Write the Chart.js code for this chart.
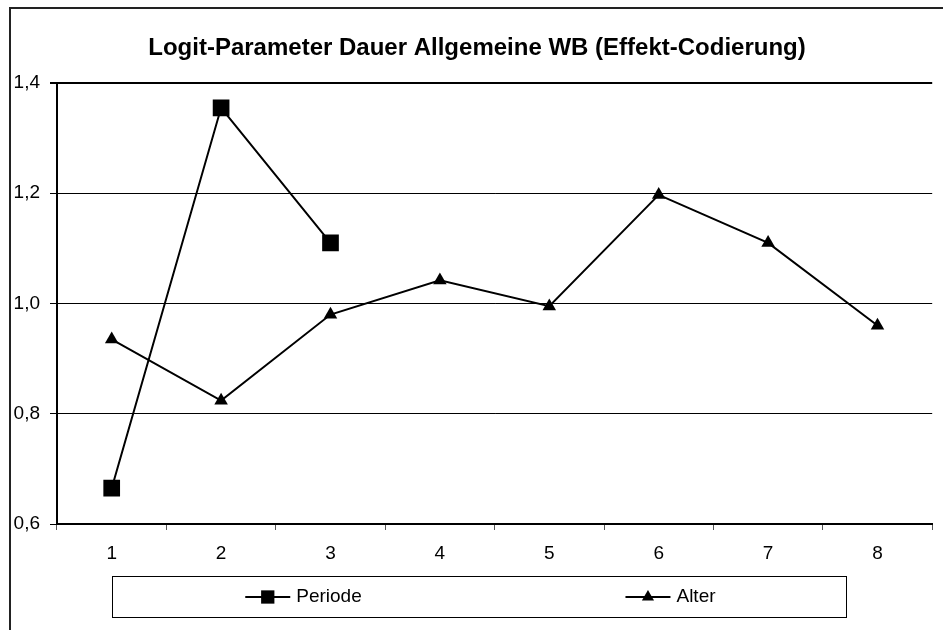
<!DOCTYPE html>
<html><head><meta charset="utf-8">
<script src="https://cdn.jsdelivr.net/npm/chart.js@4/dist/chart.umd.min.js"></script>
<style>
html,body{margin:0;padding:0;background:#fff;overflow:hidden;}
#wrap{position:relative;width:944px;height:630px;}
</style></head><body>
<div id="wrap"><canvas id="c"></canvas></div>
<script>
const categories = ['1','2','3','4','5','6','7','8'];
const periodeValues = [0.665, 1.355, 1.11];
const alterValues = [0.935, 0.824, 0.98, 1.042, 0.995, 1.197, 1.11, 0.96];
const yMin = 0.6, yMax = 1.4, yStep = 0.2;
const seriesNames = ['Periode', 'Alter'];
const titleText = 'Logit-Parameter Dauer Allgemeine WB (Effekt-Codierung)';

const FONT = "'Liberation Sans', Arial, sans-serif";

const framePlugin = {
  id: 'frame',
  beforeDraw(chart) {
    const ctx = chart.ctx;
    ctx.save();
    ctx.fillStyle = '#fff';
    ctx.fillRect(0, 0, chart.width, chart.height);
    ctx.strokeStyle = '#222';
    ctx.lineWidth = 2;
    ctx.beginPath();
    ctx.moveTo(10, chart.height + 5);
    ctx.lineTo(10, 8);
    ctx.lineTo(chart.width + 5, 8);
    ctx.stroke();
    ctx.restore();
  },
  afterDraw(chart) {
    const ctx = chart.ctx;
    ctx.save();
    const bx = 112, by = 576, bw = 734, bh = 41;
    ctx.strokeStyle = '#000';
    ctx.lineWidth = 1;
    ctx.strokeRect(bx + 0.5, by + 0.5, bw, bh);
    ctx.font = '19px ' + FONT;
    ctx.textBaseline = 'middle';
    ctx.fillStyle = '#000';
    const n = chart.data.datasets.length;
    const colW = bw / n;
    const cy = by + bh / 2 + 0.5;
    chart.data.datasets.forEach((ds, i) => {
      const tw = ctx.measureText(ds.label).width;
      const cw = 45 + 6 + tw;
      const x0 = bx + colW * i + (colW - cw) / 2 + 8;
      ctx.strokeStyle = '#000';
      ctx.lineWidth = 2;
      ctx.beginPath();
      ctx.moveTo(x0, cy);
      ctx.lineTo(x0 + 45, cy);
      ctx.stroke();
      ctx.fillStyle = '#000';
      Chart.helpers.drawPoint(ctx, {
        pointStyle: ds.pointStyle,
        radius: ds.pointStyle === 'rect' ? 9.4 : 7,
        borderWidth: 0
      }, x0 + 22.5, cy);
      ctx.fillStyle = '#000';
      ctx.fillText(ds.label, x0 + 51, cy);
    });
    ctx.restore();
  }
};

new Chart(document.getElementById('c'), {
  type: 'line',
  data: {
    labels: categories,
    datasets: [
      {
        label: seriesNames[0],
        data: periodeValues,
        borderColor: '#000',
        backgroundColor: '#000',
        borderWidth: 2,
        pointStyle: 'rect',
        pointRadius: 11.8,
        pointBorderWidth: 0,
        pointBackgroundColor: '#000',
        tension: 0
      },
      {
        label: seriesNames[1],
        data: alterValues,
        borderColor: '#000',
        backgroundColor: '#000',
        borderWidth: 2,
        pointStyle: 'triangle',
        pointRadius: 7.8,
        pointBorderWidth: 0,
        pointBackgroundColor: '#000',
        tension: 0
      }
    ]
  },
  options: {
    responsive: true,
    maintainAspectRatio: false,
    animation: false,
    devicePixelRatio: 1,
    layout: { padding: { left: 10, right: 0, top: 0, bottom: 66 } },
    plugins: {
      legend: { display: false },
      tooltip: { enabled: false },
      title: {
        display: true,
        text: titleText,
        color: '#000',
        font: { family: FONT, size: 24, weight: 'bold', lineHeight: 1.2 },
        padding: { top: 34, bottom: 20.2 }
      }
    },
    scales: {
      x: {
        offset: true,
        afterFit: (s) => { s.height = 40; },
        grid: {
          offset: true,
          drawOnChartArea: false,
          drawTicks: true,
          tickLength: 6,
          color: '#555',
          lineWidth: 1
        },
        border: { display: true, color: '#000', width: 2 },
        ticks: {
          color: '#000',
          padding: 12,
          maxRotation: 0,
          font: { family: FONT, size: 19 }
        }
      },
      y: {
        min: yMin,
        max: yMax,
        afterFit: (s) => { s.width = 47; },
        grid: {
          color: '#000',
          lineWidth: (c) => (c.tick && Math.abs(c.tick.value - yMax) < 1e-9 ? 2 : 1),
          tickLength: 7,
          drawTicks: true
        },
        border: { display: true, color: '#000', width: 2 },
        ticks: {
          stepSize: yStep,
          color: '#000',
          padding: 10,
          font: { family: FONT, size: 19 },
          callback: (v) => Number(v).toFixed(1).replace('.', ',')
        }
      }
    }
  },
  plugins: [framePlugin]
});
</script>
</body></html>
